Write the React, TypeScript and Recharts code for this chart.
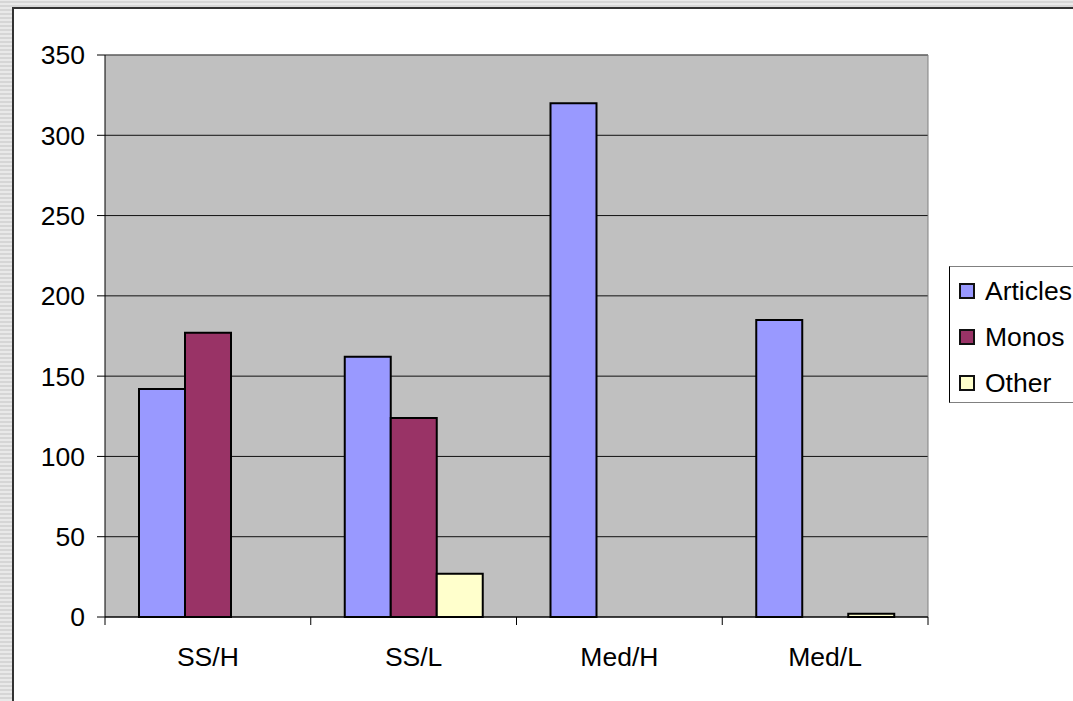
import React from "react";
import { BarChart, Bar, XAxis, YAxis, CartesianGrid } from "recharts";

const categories = ["SS/H", "SS/L", "Med/H", "Med/L"];
const articles = [142, 162, 320, 185];
const monos = [177, 124, 0, 0];
const other = [0, 27, 0, 2];
const yTicks = [0, 50, 100, 150, 200, 250, 300, 350];

const seriesInfo = [
  { key: "Articles", color: "#9999ff" },
  { key: "Monos", color: "#993366" },
  { key: "Other", color: "#ffffcc" },
];

const data = categories.map((name, i) => ({
  name,
  Articles: articles[i],
  Monos: monos[i],
  Other: other[i],
}));

const FONT = "'Liberation Sans', Arial, sans-serif";
const FONT_SIZE = 26.5;
const X_TICK_SIZE = 8;
const X_TICK_MARGIN = 22;

// category label plus a boundary tick mark on each side of the band
const CategoryTick = (props: any) => {
  const { x, y, payload, index, visibleTicksCount } = props;
  const axisY = y - X_TICK_SIZE - X_TICK_MARGIN;
  const half = payload.offset || 0;
  return (
    <g>
      <line x1={x - half} x2={x - half} y1={axisY} y2={axisY + 8} stroke='#000' />
      {index === visibleTicksCount - 1 && (
        <line x1={x + half} x2={x + half} y1={axisY} y2={axisY + 8} stroke='#000' />
      )}
      <text
        x={x}
        y={y}
        dy='0.71em'
        textAnchor='middle'
        fill='#000'
        fontSize={FONT_SIZE}
        fontFamily={FONT}
      >
        {payload.value}
      </text>
    </g>
  );
};

const LegendBox = () => (
  <div
    style={{
      position: "absolute",
      left: 949,
      top: 266,
      width: 140,
      height: 137,
      background: "#fff",
      borderLeft: "1px solid #000",
      borderTop: "1px solid #808080",
      borderBottom: "1px solid #808080",
      boxSizing: "border-box",
      paddingTop: 1,
      paddingLeft: 9,
      fontFamily: FONT,
      fontSize: FONT_SIZE,
    }}
  >
    {seriesInfo.map((s) => (
      <div
        key={s.key}
        style={{ display: "flex", alignItems: "center", height: 46, whiteSpace: "nowrap" }}
      >
        <div
          style={{
            width: 16,
            height: 16,
            background: s.color,
            border: "2px solid #111",
            boxSizing: "border-box",
            marginRight: 10,
          }}
        />
        <span style={{ lineHeight: 1 }}>{s.key}</span>
      </div>
    ))}
  </div>
);

export default function App() {
  return (
    <div
      style={{
        position: "fixed",
        left: 0,
        top: 0,
        width: 1073,
        height: 701,
        overflow: "hidden",
        backgroundColor: "#dcdcdc",
        backgroundImage:
          "repeating-linear-gradient(0deg, #e9e9e9 0px, #e9e9e9 2px, #d6d6d6 2px, #d6d6d6 4px)",
      }}
    >
      {/* white chart panel */}
      <div
        style={{
          position: "absolute",
          left: 12,
          top: 7,
          width: 1120,
          height: 740,
          background: "#fff",
          borderLeft: "2px solid #333",
          borderTop: "2px solid #333",
        }}
      />
      <div style={{ position: "absolute", left: 0, top: 0 }}>
        <BarChart
          width={1073}
          height={701}
          data={data}
          margin={{ top: 55, right: 145, bottom: 24, left: 0 }}
          barCategoryGap={34}
          barGap={0}
        >
          <CartesianGrid fill='#c0c0c0' stroke='#111' vertical={false} />
          <CartesianGrid
            fill='none'
            stroke='#808080'
            horizontalCoordinatesGenerator={({ offset }: any) => [offset.top]}
            verticalCoordinatesGenerator={({ offset }: any) => [offset.left + offset.width]}
          />
          <XAxis
            dataKey='name'
            height={60}
            axisLine={{ stroke: "#000" }}
            tickLine={false}
            tickSize={X_TICK_SIZE}
            tickMargin={X_TICK_MARGIN}
            tick={<CategoryTick />}
            interval={0}
          />
          <YAxis
            width={105}
            domain={[0, 350]}
            ticks={yTicks}
            axisLine={{ stroke: "#000" }}
            tickLine={{ stroke: "#000" }}
            tickSize={8}
            tickMargin={12}
            tick={{ fill: "#000", fontSize: FONT_SIZE, fontFamily: FONT }}
          />
          {seriesInfo.map((s) => (
            <Bar
              key={s.key}
              dataKey={s.key}
              fill={s.color}
              stroke='#000'
              strokeWidth={2}
              isAnimationActive={false}
            />
          ))}
        </BarChart>
      </div>
      <LegendBox />
    </div>
  );
}
